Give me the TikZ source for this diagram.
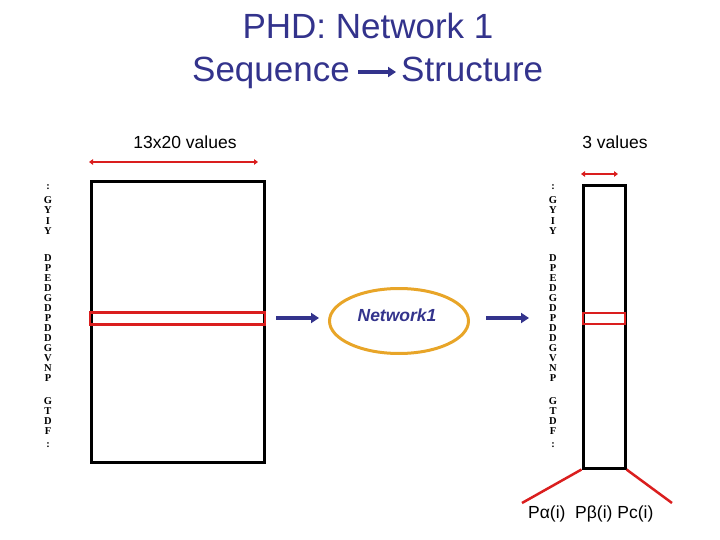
\documentclass[tikz,border=0pt]{standalone}
\usepackage{fontspec}
\setmainfont{Liberation Sans}
\newfontfamily\seqfont{Liberation Serif}
\usetikzlibrary{arrows.meta,shapes.geometric}
\definecolor{navy}{RGB}{51,51,140}
\definecolor{redl}{RGB}{218,30,30}
\definecolor{orng}{RGB}{232,165,40}
\tikzset{
  title/.style={font=\fontsize{35}{35}\selectfont, text=navy, inner sep=0pt},
  lbl/.style={font=\fontsize{17.5}{17.5}\selectfont, text=black, inner sep=0pt},
  seqletter/.style={font=\seqfont\bfseries\fontsize{10.5}{10.5}\selectfont, inner sep=0pt},
  box/.style={draw=black, line width=3pt},
  redbox/.style={draw=redl, line width=2.5pt},
  flow/.style={draw=navy, line width=3.5pt, -{Triangle[length=8pt,width=10pt]}},
  span/.style={draw=redl, line width=2.5pt, {Triangle[length=4pt,width=5.5pt]}-{Triangle[length=4pt,width=5.5pt]}},
  leg/.style={draw=redl, line width=2.5pt}
}
\begin{document}
\begin{tikzpicture}[x=1pt,y=-1pt]
\useasboundingbox (0,0) rectangle (720,540);
% title
\node[title, anchor=base] (t1) at (368,39) {PHD: Network 1};
\node[title, anchor=base east] (t2a) at (350,82) {Sequence};
\node[title, anchor=base west] (t2b) at (401,82) {Structure};
\coordinate (ta) at (358,72);
\coordinate (tb) at (396,72);
\draw[flow, line width=4pt] (ta) -- (tb);
% labels
\node[lbl] (l1) at (185,142) {13x20 values};
\node[lbl] (l2) at (615,142) {3 values};
\coordinate (s1a) at (89,162);
\coordinate (s1b) at (258,162);
\draw[span] (s1a) -- (s1b);
\coordinate (s2a) at (581,174);
\coordinate (s2b) at (618,174);
\draw[span] (s2a) -- (s2b);
% boxes
\node[box, minimum width=173pt, minimum height=281pt, inner sep=0pt] (L) at (177.5,322) {};
\node[redbox, minimum width=175pt, minimum height=12pt, inner sep=0pt] (Lr) at (177.5,318.5) {};
\node[box, minimum width=42pt, minimum height=282pt, inner sep=0pt] (R) at (604,327) {};
\node[redbox, minimum width=42pt, minimum height=11pt, inner sep=0pt] (Rr) at (604,318.5) {};
% network
\node[draw=orng, line width=3pt, ellipse, minimum width=139pt, minimum height=65pt, inner sep=0pt] (N) at (399,321) {};
\node[font=\bfseries\itshape\fontsize{17.5}{17.5}\selectfont, text=navy] (Nt) at (397,315) {Network1};
\coordinate (a1a) at (276,318);
\coordinate (a1b) at (319,318);
\draw[flow] (a1a) -- (a1b);
\coordinate (a2a) at (486,318);
\coordinate (a2b) at (529,318);
\draw[flow] (a2a) -- (a2b);
% legs
\coordinate (p1) at (522,503);
\coordinate (p2) at (672,503);
\draw[leg] (R.south west) -- (p1);
\draw[leg] (R.south east) -- (p2);
\node[lbl, anchor=west] (P) at (528,514) {Pα(i)\ \ Pβ(i) Pc(i)};
% sequence letters
\foreach \c/\y [count=\i] in {:/187, G/200, Y/210.5, I/221, Y/231.5, D/258, P/268, E/278, D/288, G/298, D/308, P/318, D/328, D/338, G/348, V/358, N/368, P/378, G/401, T/411, D/421, F/431, :/445} {
  \node[seqletter] (sl\i) at (48,\y) {\c};
  \node[seqletter] (sr\i) at (553,\y) {\c};
}
\end{tikzpicture}
\end{document}
